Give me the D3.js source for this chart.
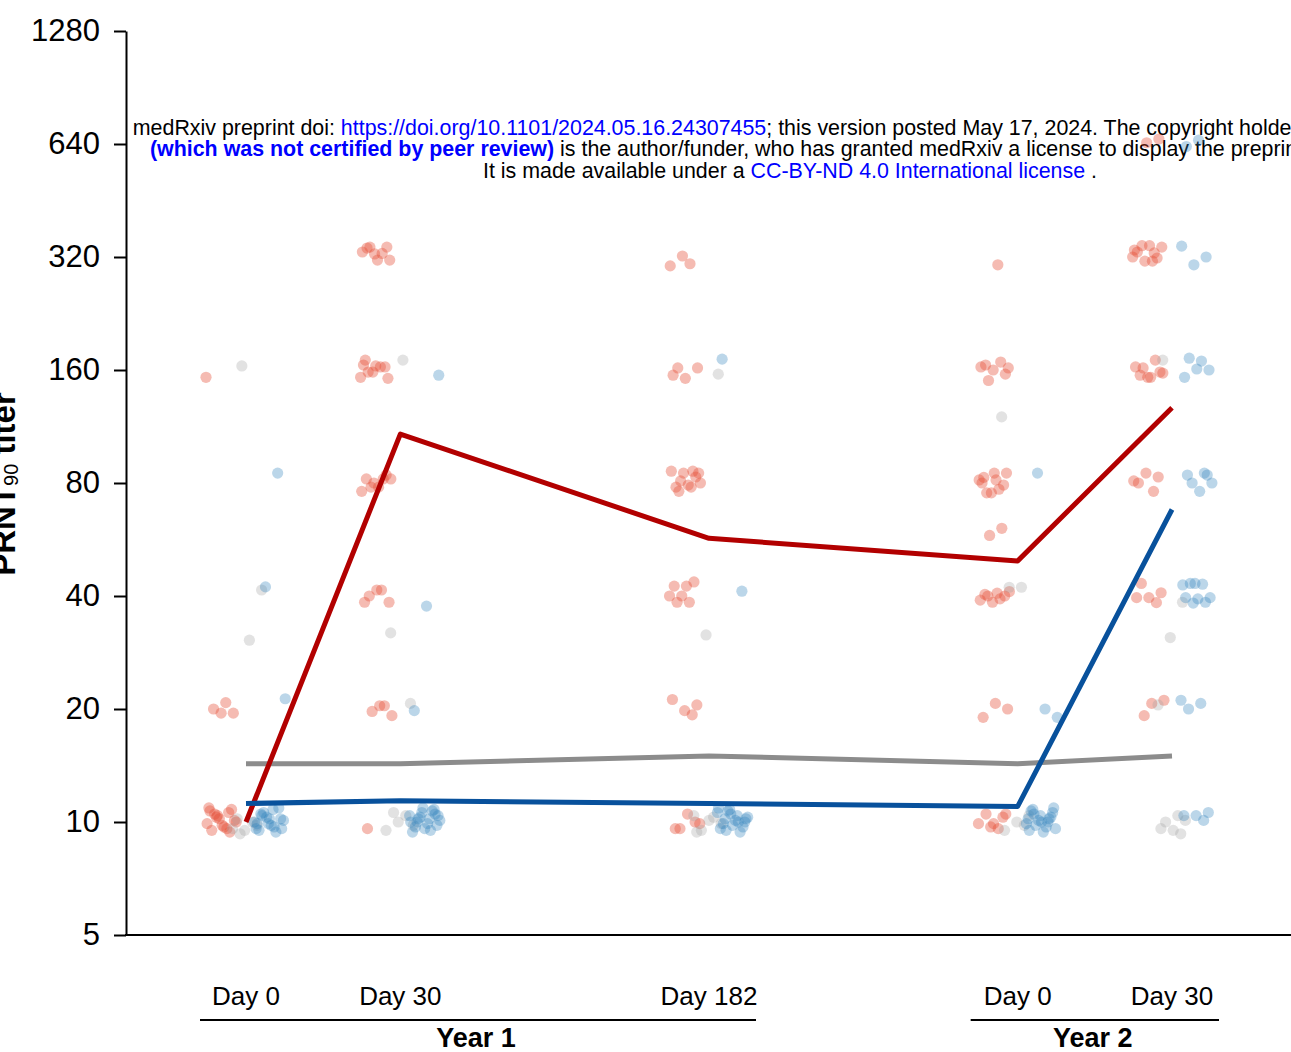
<!DOCTYPE html>
<html><head><meta charset="utf-8">
<script src="https://cdn.jsdelivr.net/npm/d3@7"></script>
<style>
body{margin:0;background:#fff;overflow:hidden}
svg{display:block}
text{font-family:"Liberation Sans",Arial,Helvetica,sans-serif}
</style>
</head><body>
<svg id="chart" width="1291" height="1052"></svg>
<script>
// ---------- DATA ----------
const timepoints = ["Y1D0", "Y1D30", "Y1D182", "Y2D0", "Y2D30"];
const slotOrder = ["Y1D0", "Y1D30", "gapA", "Y1D182", "gapB", "Y2D0", "Y2D30"];
const timeLabels = ["Day 0", "Day 30", "Day 182", "Day 0", "Day 30"];
const years = ["Year 1", "Year 2"];
const yearSpans = [["Y1D0", "Y1D182"], ["Y2D0", "Y2D30"]];
const yTicks = [5, 10, 20, 40, 80, 160, 320, 640, 1280];
const groups = ["Group A", "Group B", "Group C"]; // red, gray, blue

// geometric mean lines
const meanRed  = [10.0, 108, 57, 49.6, 127];
const meanGray = [14.3, 14.3, 15.0, 14.3, 15.0];
const meanBlue = [11.2, 11.4, 11.2, 11.0, 68];

// individual titers, one array per timepoint
const pointsRed = [
  [153, 20.8, 20, 19.5, 19.5, 10.9, 10.6, 10.3, 10.0, 9.7, 9.5, 10.8, 10.2, 9.9, 9.6, 10.5, 10.1, 9.8, 10.7, 9.4, 10.4],
  [338, 340, 326, 330, 327, 340, 314, 314, 170, 163, 158, 153, 163, 158, 152, 164, 165, 82, 78, 82, 78, 82, 84, 80, 76, 41.5, 40, 38.5, 41.5, 38.5, 20.4, 19.7, 19.2, 20.4, 9.6],
  [322, 303, 307, 162, 162, 152, 155, 86, 81, 80, 79, 78, 83, 85, 86, 78, 76, 85, 42.5, 42.5, 43.6, 40, 40, 38.5, 38.5, 20.5, 19.8, 21.2, 19.3, 9.6, 9.9, 10.5, 9.6, 10.0],
  [305, 165, 156, 160, 163, 168, 150, 162, 81.5, 82.8, 79, 75.3, 81.5, 77, 75.3, 85, 85, 80, 60.6, 58, 41.1, 40.7, 40.4, 40, 38.5, 39, 39.3, 40, 20, 20.7, 19, 10.3, 9.7, 9.9, 9.6, 10.5, 10.5, 9.9],
  [660, 645, 334, 328, 343, 340, 343, 330, 318, 312, 320, 312, 155, 158, 153, 163, 170, 162, 157, 153, 80, 83, 85, 81, 76, 43.2, 40.8, 39.6, 39.6, 38.4, 19.2, 21.1, 20.7]
];
const pointsGray = [
  [164, 41.5, 30.5, 10.2, 9.8, 9.5, 9.6, 10.0, 9.3],
  [170, 31.9, 20.7, 10.0, 9.5, 10.4, 10.6, 9.8],
  [156, 31.5, 10.4, 10.3, 9.5, 9.9, 10.1, 9.4],
  [120, 42.2, 42.2, 10.4, 10.0, 9.5, 9.8],
  [170, 38.5, 31, 20.5, 10.4, 10.0, 10.1, 9.5, 9.6, 9.3]
];
const pointsBlue = [
  [85, 42.3, 21.3, 10.8, 10.5, 10.2, 9.9, 9.6, 9.4, 10.6, 10.1, 9.8, 9.5, 10.9, 10.3, 10.0, 9.7, 10.4, 9.6, 10.2, 9.9],
  [155, 37.6, 19.8, 10.8, 10.6, 10.4, 10.2, 10.0, 9.8, 9.6, 9.4, 10.7, 10.3, 10.1, 9.9, 9.7, 10.5, 10.9, 10.0, 9.5, 10.2, 10.4],
  [171, 41.2, 10.8, 10.6, 10.4, 10.2, 10.0, 9.8, 9.6, 9.4, 10.7, 10.3, 10.1, 9.9, 9.7, 10.5, 10.9, 10.0, 9.5, 10.2],
  [85, 19, 20, 10.8, 10.6, 10.4, 10.2, 10.0, 9.8, 9.6, 9.4, 10.7, 10.3, 10.1, 9.9, 9.7, 10.5, 10.9, 10.0, 9.5, 10.2],
  [655, 630, 320, 305, 342, 169, 172, 160, 161, 153, 85, 80, 80, 76, 84, 84, 43.2, 42.8, 43, 43.2, 39.6, 39.3, 39.6, 38.5, 38.3, 21.1, 20.7, 20.0, 10.6, 10.4, 10.4, 10.1]
];

// ---------- RENDER ----------
const svg = d3.select("#chart");
const fontFam = '"Liberation Sans",Arial,Helvetica,sans-serif';

const x = d3.scalePoint().domain(slotOrder).range([246, 1172]);
const y = d3.scaleLog().base(2).domain([5, 1280]).range([935, 31]);

const colors = { red: "#E64B35", gray: "#A0A0A0", blue: "#3182BD" };
const lineColors = { red: "#B20000", gray: "#8C8C8C", blue: "#08519C" };

// medRxiv watermark text
const wm = svg.append("g").attr("font-size", 21.4).attr("text-anchor", "middle");
const cx = 790;
const l1 = wm.append("text").attr("x", cx).attr("y", 135).attr("fill", "#000");
l1.append("tspan").text("medRxiv preprint doi: ");
l1.append("tspan").attr("fill", "#0000FF").text("https://doi.org/10.1101/2024.05.16.24307455");
l1.append("tspan").text("; this version posted May 17, 2024. The copyright holder for this preprint");
const l2 = wm.append("text").attr("x", cx).attr("y", 156).attr("fill", "#000");
l2.append("tspan").attr("fill", "#0000FF").attr("font-weight", "bold").text("(which was not certified by peer review)");
l2.append("tspan").text(" is the author/funder, who has granted medRxiv a license to display the preprint in perpetuity.");
const l3 = wm.append("text").attr("x", cx).attr("y", 178).attr("fill", "#000");
l3.append("tspan").text("It is made available under a ");
l3.append("tspan").attr("fill", "#0000FF").text("CC-BY-ND 4.0 International license");
l3.append("tspan").text(" .");

// points
const groupDefs = [
  { key: "red", data: pointsRed, offset: -24 },
  { key: "gray", data: pointsGray, offset: 0 },
  { key: "blue", data: pointsBlue, offset: 24 }
];
const pts = svg.append("g");
groupDefs.forEach((g, gi) => {
  g.data.forEach((vals, ti) => {
    vals.forEach((v, i) => {
      const frac = ((i * 0.6180339887 + gi * 0.37 + ti * 0.21) % 1) - 0.5;
      pts.append("circle")
        .attr("cx", x(timepoints[ti]) + g.offset + frac * 32)
        .attr("cy", y(v))
        .attr("r", 5.6)
        .attr("fill", colors[g.key])
        .attr("fill-opacity", g.key === "gray" ? 0.3 : (g.key === "red" ? 0.38 : 0.33));
    });
  });
});

// mean lines
const line = d3.line().x((d, i) => x(timepoints[i])).y(d => y(d));
[["gray", meanGray], ["red", meanRed], ["blue", meanBlue]].forEach(([k, arr]) => {
  svg.append("path").datum(arr).attr("d", line)
    .attr("fill", "none").attr("stroke", lineColors[k])
    .attr("stroke-width", 5).attr("stroke-linejoin", "round");
});

// y axis
const yAxis = d3.axisLeft(y).tickValues(yTicks).tickFormat(d => d)
  .tickSize(12).tickSizeOuter(0).tickPadding(14);
const ya = svg.append("g").attr("transform", "translate(126,0)").call(yAxis);
ya.select(".domain").attr("stroke", "#000").attr("stroke-width", 2);
ya.selectAll(".tick line").attr("stroke", "#000").attr("stroke-width", 2);
ya.selectAll(".tick text").attr("font-size", 31).attr("font-family", fontFam).attr("fill", "#000");

// x axis baseline
svg.append("line").attr("x1", 125).attr("x2", 1291).attr("y1", y(5)).attr("y2", y(5))
  .attr("stroke", "#000").attr("stroke-width", 2);

// x labels
svg.append("g").selectAll("text").data(timepoints).join("text")
  .attr("x", d => x(d)).attr("y", 1005).attr("text-anchor", "middle")
  .attr("font-size", 26).attr("fill", "#000").text((d, i) => timeLabels[i]);

// year brackets
const yearExt = [[-46, 47], [-47, 47]];
years.forEach((yr, i) => {
  const x1 = x(yearSpans[i][0]) + yearExt[i][0];
  const x2 = x(yearSpans[i][1]) + yearExt[i][1];
  svg.append("line").attr("x1", x1).attr("x2", x2).attr("y1", 1020).attr("y2", 1020)
    .attr("stroke", "#000").attr("stroke-width", 2);
  svg.append("text").attr("x", (x1 + x2) / 2 - 2).attr("y", 1047).attr("text-anchor", "middle")
    .attr("font-size", 27).attr("font-weight", "bold").attr("fill", "#000").text(yr);
});

// y label
const yl = svg.append("text").attr("transform", "translate(15,484) rotate(-90)")
  .attr("text-anchor", "middle").attr("font-size", 33).attr("font-weight", "bold").attr("fill", "#000");
yl.append("tspan").text("PRNT");
yl.append("tspan").attr("font-size", 20).attr("font-weight", "normal").attr("dy", 3).text("90");
yl.append("tspan").attr("dy", -3).text(" titer");
</script>
</body></html>
